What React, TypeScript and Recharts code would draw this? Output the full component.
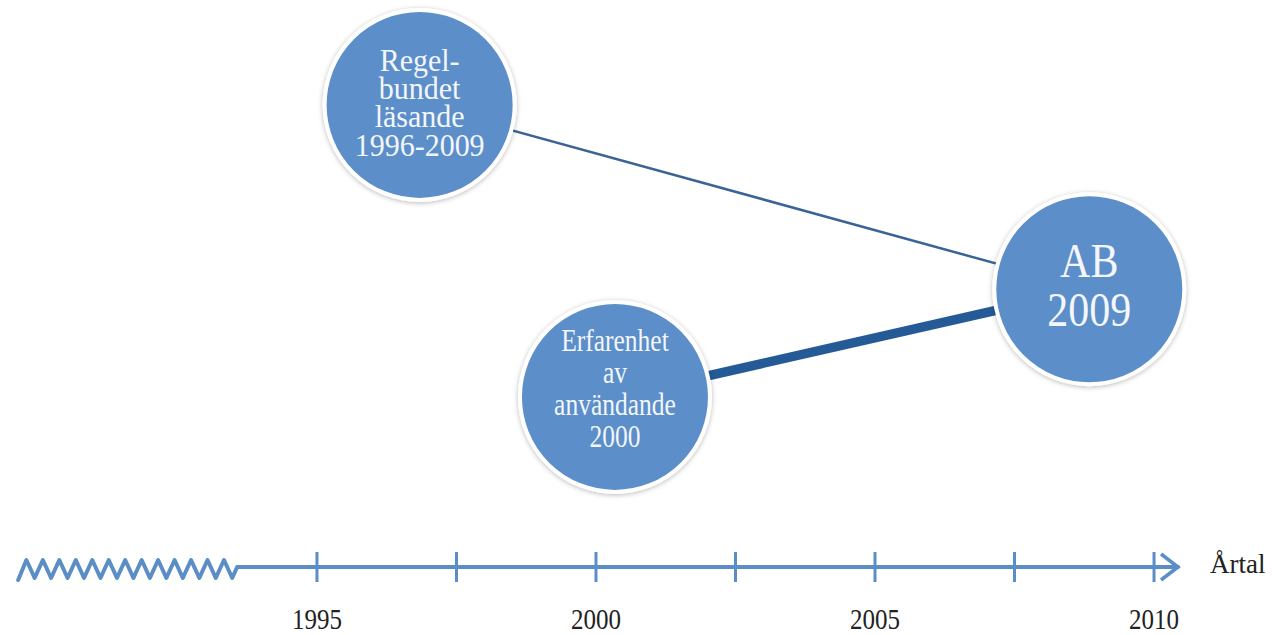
import React from "react";
import {
  ComposedChart,
  XAxis,
  YAxis,
  Line,
  Scatter,
  ReferenceLine,
} from "recharts";

// ---- data ----
const nodeYears = [1996.84, 2000.34, 2008.84];
const nodeLevels = [81.5, 30.0, 49.0];
const nodeLabels = [
  ["Regel-", "bundet", "läsande", "1996-2009"],
  ["Erfarenhet", "av", "användande", "2000"],
  ["AB", "2009"],
];
const linkPairs = [
  [0, 2],
  [1, 2],
];
const tickYears = [1995, 1997.5, 2000, 2002.5, 2005, 2007.5, 2010];
const labeledYears = [1995, 2000, 2005, 2010];
const axisStartYear = 1993.57;
const axisEndYear = 2010.43;
const axisTitle = "Årtal";

// ---- styles ----
const W = 1274;
const H = 635;
const X_DOMAIN: [number, number] = [1989.32, 2012.15];
const Y_DOMAIN: [number, number] = [0, 100];
const FONT = "'Liberation Serif', 'Times New Roman', serif";
const CIRCLE_FILL = "#5B8EC9";
const AXIS_COLOR = "#5B8DC6";
const nodeTextStyles = [
  { fontSize: 30, scaleY: 1.03, firstOffset: -34, lineStep: 28.3 },
  { fontSize: 25.5, scaleY: 1.25, firstOffset: -46, lineStep: 32 },
  { fontSize: 42, scaleY: 1.15, firstOffset: -12, lineStep: 49 },
];
const linkStyles = [
  { stroke: "#3A6496", width: 2.5 },
  { stroke: "#245A95", width: 9.5 },
];

const nodeData = nodeYears.map((x, i) => ({ x, y: nodeLevels[i], idx: i }));
const linkData = linkPairs.map(([a, b]) => [
  { x: nodeYears[a], y: nodeLevels[a] },
  { x: nodeYears[b], y: nodeLevels[b] },
]);

const NodeShape = (props: any) => {
  const { cx, cy, payload } = props;
  const i = payload.idx;
  const st = nodeTextStyles[i];
  const fid = `nodeShadow${i}`;
  const step = st.lineStep / st.scaleY;
  return (
    <g>
      <defs>
        <filter id={fid} x="-20%" y="-20%" width="140%" height="140%">
          <feDropShadow dx="0" dy="1" stdDeviation="2.5" floodColor="#000" floodOpacity="0.28" />
        </filter>
      </defs>
      <circle cx={cx} cy={cy} r={95} fill={CIRCLE_FILL} stroke="#FFFFFF" strokeWidth={4} filter={`url(#${fid})`} />
      <text
        transform={`translate(${cx}, ${cy + st.firstOffset}) scale(1, ${st.scaleY})`}
        x={0}
        y={0}
        textAnchor="middle"
        fontFamily={FONT}
        fontSize={st.fontSize}
        fill="#F3F6FB"
      >
        {nodeLabels[i].map((line, k) => (
          <tspan key={k} x={0} dy={k === 0 ? 0 : step}>
            {line}
          </tspan>
        ))}
      </text>
    </g>
  );
};

const AxisTick = (props: any) => {
  const { x, y, payload } = props;
  const v = payload.value;
  const showLabel = labeledYears.includes(v);
  return (
    <g>
      <line x1={x} y1={y - 15} x2={x} y2={y + 15} stroke={AXIS_COLOR} strokeWidth={3} />
      {showLabel && (
        <text
          transform={`translate(${x}, ${y + 62}) scale(1, 1.15)`}
          x={0}
          y={0}
          textAnchor="middle"
          fontFamily={FONT}
          fontSize={25}
          fill="#222"
        >
          {v}
        </text>
      )}
    </g>
  );
};

const AxisShape = (props: any) => {
  const { x1, y1, x2 } = props;
  const y = y1;
  // decorative zig-zag break on the left of the axis
  const zigWidth = 219;
  const peaks = 13;
  const period = zigWidth / (peaks + 0.3);
  const x0 = x1 - zigWidth;
  let d = `M ${x0} ${y + 13}`;
  for (let k = 0; k < peaks; k++) {
    d += ` L ${x0 + period * (k + 0.5)} ${y - 7} L ${x0 + period * (k + 1)} ${y + 11}`;
  }
  d += ` L ${x1} ${y} L ${x2} ${y}`;
  return (
    <g>
      <path d={d} fill="none" stroke={AXIS_COLOR} strokeWidth={4} strokeLinejoin="round" strokeLinecap="round" />
      <path
        d={`M ${x2 - 17} ${y - 13} L ${x2} ${y} L ${x2 - 17} ${y + 13}`}
        fill="none"
        stroke={AXIS_COLOR}
        strokeWidth={3.5}
        strokeLinejoin="miter"
      />
      <text x={x2 + 32} y={y + 6} fontFamily={FONT} fontSize={27} fill="#222">
        {axisTitle}
      </text>
    </g>
  );
};

export default function App() {
  return (
    <div style={{ position: "absolute", left: 0, top: 0, width: W, height: H, background: "#fff" }}>
      <ComposedChart width={W} height={H} margin={{ top: 0, right: 0, bottom: 0, left: 0 }}>
        <XAxis
          dataKey="x"
          type="number"
          domain={X_DOMAIN}
          allowDataOverflow
          ticks={tickYears}
          interval={0}
          height={68}
          axisLine={false}
          tickLine={false}
          tickSize={0}
          tickMargin={0}
          tick={<AxisTick />}
        />
        <YAxis type="number" domain={Y_DOMAIN} hide allowDataOverflow />
        <ReferenceLine
          segment={[
            { x: axisStartYear, y: 0 },
            { x: axisEndYear, y: 0 },
          ]}
          ifOverflow="visible"
          shape={AxisShape}
        />
        {linkData.map((d, i) => (
          <Line
            key={i}
            data={d}
            dataKey="y"
            type="linear"
            stroke={linkStyles[i].stroke}
            strokeWidth={linkStyles[i].width}
            dot={false}
            activeDot={false}
            isAnimationActive={false}
          />
        ))}
        <Scatter data={nodeData} dataKey="y" shape={NodeShape} isAnimationActive={false} />
      </ComposedChart>
    </div>
  );
}
